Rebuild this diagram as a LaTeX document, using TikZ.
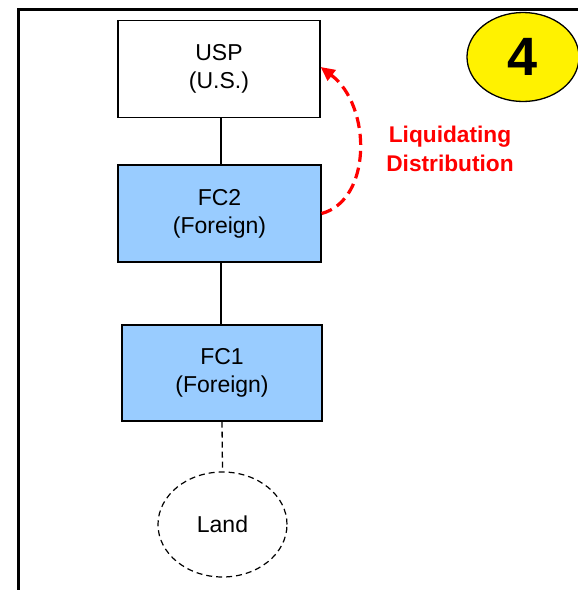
\documentclass[tikz,border=0pt]{standalone}
\usepackage{fontspec}
\setmainfont{Liberation Sans}
\usepackage{tikz}
\usetikzlibrary{shapes.geometric,arrows.meta}
\tikzset{>={Triangle[length=14pt,width=13pt]}}
\definecolor{fcblue}{HTML}{99CCFF}
\tikzset{
    entity/.style={draw,line width=1.3pt,rectangle,minimum width=202pt,minimum height=97pt,
        align=center,font=\fontsize{23}{28}\selectfont},
    foreign/.style={entity,fill=fcblue},
    owns/.style={line width=1.3pt},
}

\begin{document}
\begin{tikzpicture}[x=1pt,y=-1pt]
    \useasboundingbox (0,0) rectangle (578,590);
    \draw[line width=3pt] (18,590) -- (18,9.5) -- (578,9.5);
    \node[draw,ellipse,fill=yellow,line width=1.3pt,minimum width=112pt,minimum height=89pt,
        font=\fontsize{54}{54}\selectfont\bfseries] (badge) at (523,57) {4};
    \node[entity] (usp) at (219,69) {USP\\(U.S.)};
    \node[foreign,minimum width=203pt] (fc2) at (219.5,213.5) {FC2\\(Foreign)};
    \node[foreign,minimum width=200pt,minimum height=96pt] (fc1) at (222,373) {FC1\\(Foreign)};
    \node[draw,ellipse,dashed,line width=1.2pt,dash pattern=on 6pt off 4pt,minimum width=129pt,
        minimum height=105pt,font=\fontsize{23}{28}\selectfont] (land) at (222.5,524.5) {Land};
    \draw[owns] (usp.south -| 221,0) -- (fc2.north -| 221,0);
    \draw[owns] (fc2.south -| 221,0) -- (fc1.north -| 221,0);
    \draw[owns,dashed,dash pattern=on 6pt off 4pt] (fc1.south) -- (land.north);
    \draw[->,red,line width=3.2pt,dash pattern=on 11pt off 6pt]
        (fc2.east) .. controls (372,200) and (372,106) .. ([yshift=2pt]usp.east);
    \node[red,align=center,font=\fontsize{22.7}{29}\selectfont\bfseries] (liq) at (450,149)
        {Liquidating\\Distribution};
\end{tikzpicture}
\end{document}
